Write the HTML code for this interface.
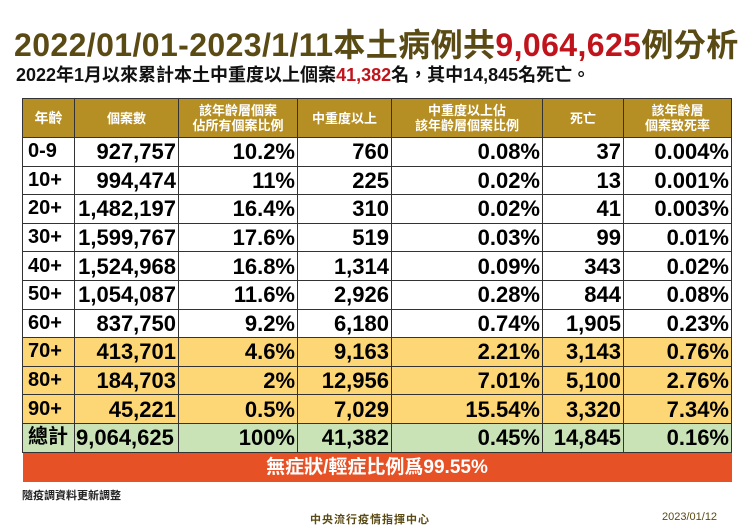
<!DOCTYPE html>
<html><head><meta charset="utf-8"><style>
body{margin:0;width:750px;height:531px;background:#fff;font-family:"Liberation Sans","Noto Sans CJK TC",sans-serif;position:relative;overflow:hidden}
.t{position:absolute;left:14px;top:20px;font-size:32px;font-weight:bold;color:#5a4a14;white-space:nowrap;letter-spacing:0.4px}
.s{position:absolute;left:16px;top:61px;font-size:18px;font-weight:bold;color:#111;white-space:nowrap}
.r{color:#c0141c}
table{position:absolute;left:22px;top:98px;border-collapse:collapse;width:709px;table-layout:fixed}
td{border:1px solid #333;font-weight:bold;font-size:22px;text-align:right;padding:0 2px;height:27.6px;line-height:27px;white-space:nowrap;overflow:hidden}
td:first-child{text-align:left;padding-left:5px;font-size:20px}
tr.h td{background:#b58e24;color:#fff;font-size:13px;text-align:center;height:38px;line-height:15px;padding:0}
tr.y td{background:#fdd775}
tr.g td{background:#c9e3b7}
tr.o td{background:#e65125;color:#fff;text-align:center;font-size:19px;border:none;height:29px}
.f1{position:absolute;left:22px;top:487px;font-size:11px;font-weight:bold;color:#222}
.f2{position:absolute;left:310px;top:511px;font-size:11px;font-weight:bold;color:#5a4a14;letter-spacing:1px}
.f3{position:absolute;left:662px;top:511px;font-size:11px;color:#5a4a14}
</style></head><body>
<div class="t">2022/01/01-2023/1/11本土病例共<span class="r">9,064,625</span>例分析</div>
<div class="s">2022年1月以來累計本土中重度以上個案<span class="r">41,382</span>名，其中14,845名死亡。</div>
<table>
<colgroup><col style="width:52px"><col style="width:104px"><col style="width:119px"><col style="width:94px"><col style="width:151px"><col style="width:81px"><col style="width:108px"></colgroup>
<tr class="h"><td style="text-align:center;padding:0;font-size:14px">年齡</td><td>個案數</td><td>該年齡層個案<br>佔所有個案比例</td><td>中重度以上</td><td>中重度以上佔<br>該年齡層個案比例</td><td>死亡</td><td>該年齡層<br>個案致死率</td></tr>
<tr><td>0-9</td><td>927,757</td><td>10.2%</td><td>760</td><td>0.08%</td><td>37</td><td>0.004%</td></tr>
<tr><td>10+</td><td>994,474</td><td>11%</td><td>225</td><td>0.02%</td><td>13</td><td>0.001%</td></tr>
<tr><td>20+</td><td>1,482,197</td><td>16.4%</td><td>310</td><td>0.02%</td><td>41</td><td>0.003%</td></tr>
<tr><td>30+</td><td>1,599,767</td><td>17.6%</td><td>519</td><td>0.03%</td><td>99</td><td>0.01%</td></tr>
<tr><td>40+</td><td>1,524,968</td><td>16.8%</td><td>1,314</td><td>0.09%</td><td>343</td><td>0.02%</td></tr>
<tr><td>50+</td><td>1,054,087</td><td>11.6%</td><td>2,926</td><td>0.28%</td><td>844</td><td>0.08%</td></tr>
<tr><td>60+</td><td>837,750</td><td>9.2%</td><td>6,180</td><td>0.74%</td><td>1,905</td><td>0.23%</td></tr>
<tr class="y"><td>70+</td><td>413,701</td><td>4.6%</td><td>9,163</td><td>2.21%</td><td>3,143</td><td>0.76%</td></tr>
<tr class="y"><td>80+</td><td>184,703</td><td>2%</td><td>12,956</td><td>7.01%</td><td>5,100</td><td>2.76%</td></tr>
<tr class="y"><td>90+</td><td>45,221</td><td>0.5%</td><td>7,029</td><td>15.54%</td><td>3,320</td><td>7.34%</td></tr>
<tr class="g"><td>總計</td><td style="text-align:left;padding-left:1px">9,064,625</td><td>100%</td><td>41,382</td><td>0.45%</td><td>14,845</td><td>0.16%</td></tr>
<tr class="o"><td colspan="7" style="text-align:center;font-size:19px;padding:0">無症狀/輕症比例爲99.55%</td></tr>
</table>
<div class="f1">隨疫調資料更新調整</div>
<div class="f2">中央流行疫情指揮中心</div>
<div class="f3">2023/01/12</div>
</body></html>
